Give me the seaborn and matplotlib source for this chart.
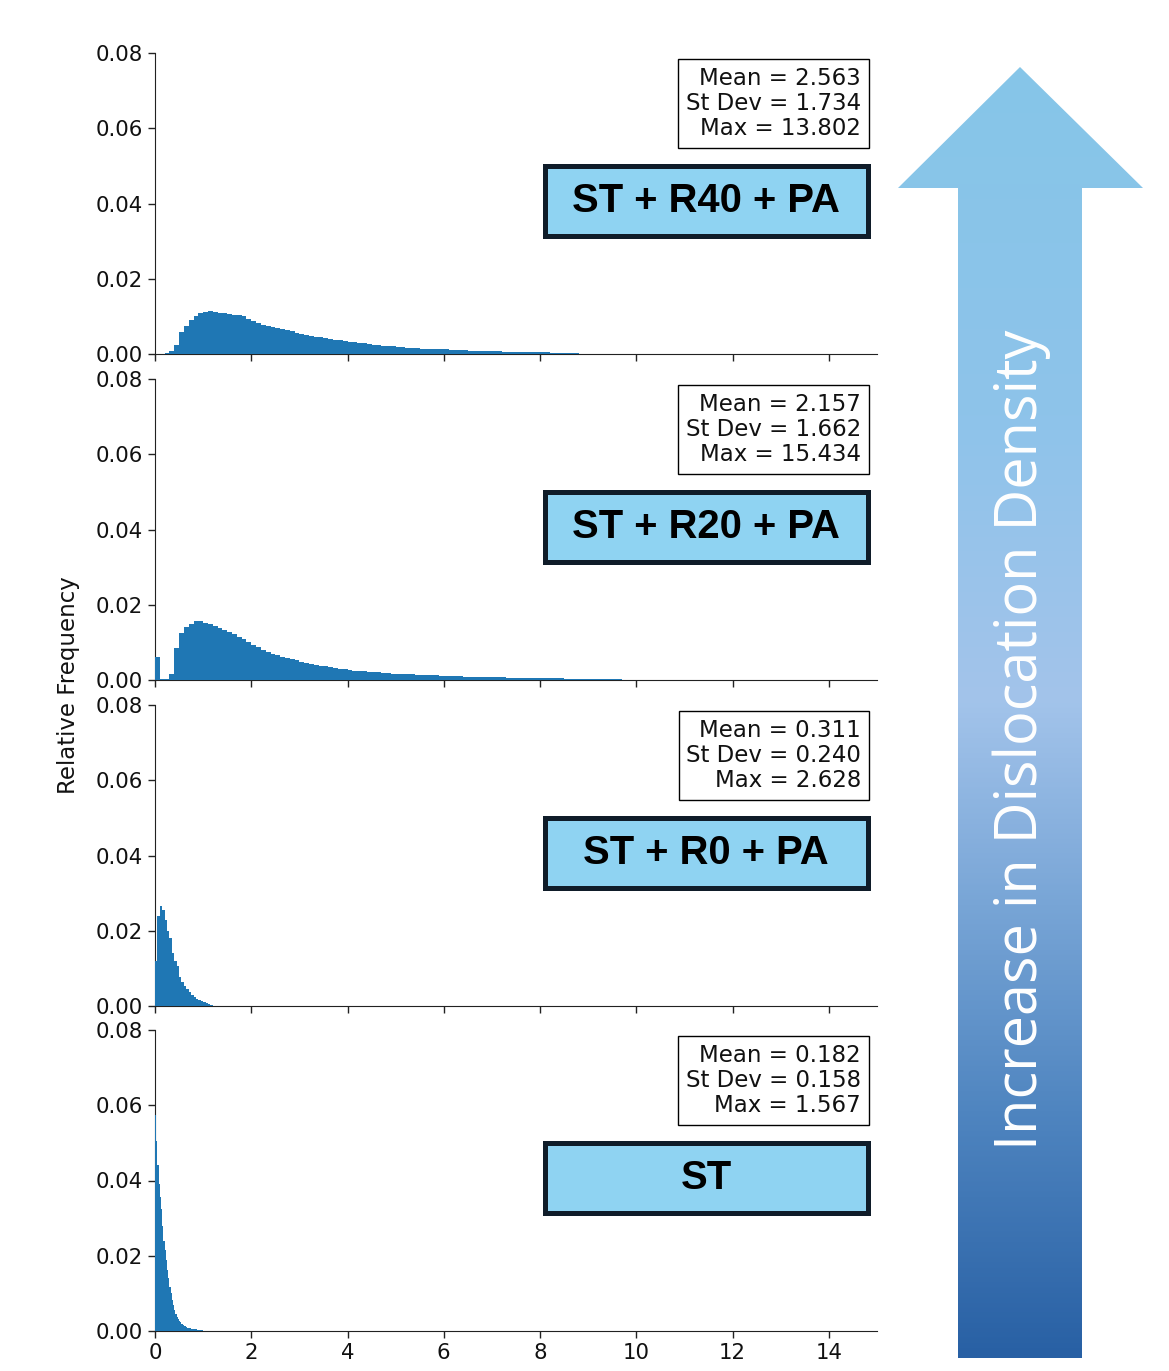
import numpy as np
import pandas as pd
import seaborn as sns
import matplotlib.pyplot as plt
from matplotlib.patches import Rectangle, Polygon
from matplotlib.colors import LinearSegmentedColormap

sns.set_style('ticks')
plt.rcParams['font.family'] = ['DejaVu Sans']

# relative frequency per bin (top panel -> bottom panel)
r40_width = 0.1
r40_freq = [0, 0, 0.0003, 0.0008, 0.0025, 0.0058, 0.0075, 0.0090, 0.0100, 0.0108,
            0.0112, 0.0113, 0.0112, 0.0110, 0.0108, 0.0106, 0.0104, 0.0104, 0.0100, 0.0094,
            0.0088, 0.0082, 0.0078, 0.0075, 0.0072, 0.0069, 0.0066, 0.0063, 0.0060, 0.0057,
            0.0054, 0.0051, 0.0048, 0.0046, 0.0044, 0.0042, 0.0040, 0.0038, 0.0036, 0.0034,
            0.0033, 0.0031, 0.0030, 0.0028, 0.0027, 0.0025, 0.0023, 0.0022, 0.0021, 0.0020,
            0.0019, 0.0018, 0.0017, 0.0016, 0.0015, 0.0014, 0.0014, 0.0013, 0.0013, 0.0012,
            0.0012, 0.0011, 0.0011, 0.0010, 0.0010, 0.0009, 0.0009, 0.0008, 0.0008, 0.0007,
            0.0007, 0.0007, 0.0006, 0.0006, 0.0006, 0.0005, 0.0005, 0.0005, 0.0004, 0.0004,
            0.0004, 0.0004, 0.0003, 0.0003, 0.0003, 0.0003, 0.0003, 0.0002, 0.0001, 0]

r20_width = 0.1
r20_freq = [0.0062, 0.0002, 0.0003, 0.0015, 0.0085, 0.0125, 0.0140, 0.0150, 0.0156, 0.0158,
            0.0152, 0.0148, 0.0143, 0.0138, 0.0133, 0.0128, 0.0121, 0.0115, 0.0108, 0.0100,
            0.0093, 0.0087, 0.0081, 0.0075, 0.0070, 0.0066, 0.0062, 0.0058, 0.0055, 0.0052,
            0.0049, 0.0046, 0.0043, 0.0040, 0.0038, 0.0036, 0.0034, 0.0032, 0.0030, 0.0028,
            0.0027, 0.0025, 0.0024, 0.0023, 0.0022, 0.0021, 0.0020, 0.0019, 0.0018, 0.0017,
            0.0017, 0.0016, 0.0015, 0.0015, 0.0014, 0.0014, 0.0013, 0.0012, 0.0012, 0.0011,
            0.0011, 0.0011, 0.0010, 0.0010, 0.0009, 0.0009, 0.0009, 0.0008, 0.0008, 0.0008,
            0.0007, 0.0007, 0.0007, 0.0006, 0.0006, 0.0006, 0.0006, 0.0005, 0.0005, 0.0005,
            0.0005, 0.0004, 0.0004, 0.0004, 0.0004, 0.0003, 0.0003, 0.0003, 0.0003, 0.0003,
            0.0003, 0.0002, 0.0002, 0.0002, 0.0002, 0.0002, 0.0002, 0.0001, 0.0001, 0.0001]

r0_width = 0.05
r0_freq = [0.0120, 0.0240, 0.0265, 0.0255, 0.0228, 0.0200, 0.0180, 0.0140, 0.0120, 0.0105,
           0.0078, 0.0065, 0.0053, 0.0045, 0.0037, 0.0030, 0.0024, 0.0019, 0.0015, 0.0012,
           0.0010, 0.0007, 0.0004, 0.0002, 0.0001]

st_width = 0.025
st_freq = [0.0575, 0.0505, 0.0440, 0.0390, 0.0355, 0.0325, 0.0280, 0.0240, 0.0215, 0.0190,
           0.0162, 0.0140, 0.0118, 0.0100, 0.0082, 0.0068, 0.0055, 0.0046, 0.0038, 0.0032,
           0.0027, 0.0023, 0.0019, 0.0016, 0.0014, 0.0012, 0.0011, 0.0009, 0.0008, 0.0007,
           0.0006, 0.0005, 0.0005, 0.0004, 0.0004, 0.0003, 0.0003, 0.0002, 0.0002, 0.0002,
           0.0001, 0.0001, 0.0001]

labels = ['ST + R40 + PA', 'ST + R20 + PA', 'ST + R0 + PA', 'ST']
means = [2.563, 2.157, 0.311, 0.182]
stdevs = [1.734, 1.662, 0.240, 0.158]
maxes = [13.802, 15.434, 2.628, 1.567]
widths = [r40_width, r20_width, r0_width, st_width]
freqs = [r40_freq, r20_freq, r0_freq, st_freq]

xticks = [0, 2, 4, 6, 8, 10, 12, 14]
yticks = [0.00, 0.02, 0.04, 0.06, 0.08]

W, H = 1169, 1371
fig = plt.figure(figsize=(W / 100, H / 100), dpi=100)

panel_tops = [53, 379, 705, 1030]
panel_h = 301
left, right = 155, 877

for i in range(4):
    ax = fig.add_axes([left / W, 1 - (panel_tops[i] + panel_h) / H, (right - left) / W, panel_h / H])
    w = widths[i]
    h = np.array(freqs[i])
    centers = (np.arange(len(h)) + 0.5) * w
    df = pd.DataFrame({'x': centers, 'f': h})
    sns.histplot(data=df, x='x', weights='f', binwidth=w, binrange=(0, len(h) * w),
                 color='#1f77b4', alpha=1, linewidth=0, ax=ax)
    ax.set_xlim(0, 15)
    ax.set_ylim(0, 0.08)
    ax.set_xticks(xticks)
    ax.set_yticks(yticks)
    ax.set_yticklabels([f'{v:.2f}' for v in yticks])
    ax.tick_params(labelsize=15.3, length=5, width=1, colors='#222222', labelcolor='#111111')
    if i < 3:
        ax.set_xticklabels([])
    ax.set_xlabel('')
    ax.set_ylabel('')
    sns.despine(ax=ax)
    for s in ['left', 'bottom']:
        ax.spines[s].set_color('#222222')
        ax.spines[s].set_zorder(0.5)
    ax.patch.set_alpha(0)

    # stats box
    ax.text(0.978, 0.955, f'Mean = {means[i]:.3f}\nSt Dev = {stdevs[i]:.3f}\nMax = {maxes[i]:.3f}',
            transform=ax.transAxes, ha='right', va='top', multialignment='right',
            fontsize=16.5, linespacing=1.13, color='#111111',
            bbox=dict(boxstyle='square,pad=0.33', fc='white', ec='black', lw=1))

    # label box
    ax.add_patch(Rectangle((0.540, 0.392), 0.447, 0.233, transform=ax.transAxes,
                           fc='#8fd3f2', ec='#0f1c29', lw=3.6, zorder=5, clip_on=False))
    ax.text(0.540 + 0.447 / 2, 0.392 + 0.233 / 2, labels[i], transform=ax.transAxes,
            ha='center', va='center', fontsize=28.8, fontweight='bold',
            family=['Liberation Sans', 'DejaVu Sans'], color='black', zorder=6)

fig.text(68 / W, 1 - 685 / H, 'Relative Frequency', rotation=90, ha='center', va='center',
         fontsize=16.5, color='#111111')

# big gradient arrow on the right
aax = fig.add_axes([0, 0, 1, 1])
aax.set_xlim(0, W)
aax.set_ylim(H, 0)
aax.axis('off')
aax.patch.set_alpha(0)
arrow_pts = [(1020, 67), (1143, 188), (1082, 188), (1082, 1358), (958, 1358), (958, 188), (898, 188)]
poly = Polygon(arrow_pts, closed=True, fc='none', ec='none')
aax.add_patch(poly)
stops = [(0.0, '#86c6e8'), (0.27, '#8ec3ea'), (0.49, '#a3c4eb'),
         (0.65, '#78a5d6'), (0.81, '#4f85c0'), (1.0, '#2860a4')]
cmap = LinearSegmentedColormap.from_list('arrow', stops)
grad = np.linspace(0, 1, 512).reshape(-1, 1)
im = aax.imshow(grad, cmap=cmap, aspect='auto', extent=(898, 1143, 1358, 67), origin='upper')
im.set_clip_path(poly)
aax.text(1022, 740, 'Increase in Dislocation Density', rotation=90, ha='center', va='center',
         color='white', fontsize=41.5, family=['Open Sans', 'DejaVu Sans'])

fig.savefig('out.png', dpi=100)
